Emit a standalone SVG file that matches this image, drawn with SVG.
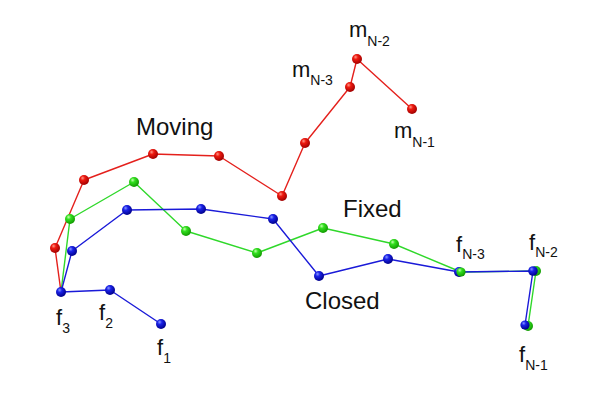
<svg xmlns="http://www.w3.org/2000/svg" width="600" height="413" viewBox="0 0 600 413">
<defs>
<radialGradient id="gR" cx="0.4" cy="0.35" r="0.65" fx="0.35" fy="0.3"><stop offset="0" stop-color="#ff9a8a"/><stop offset="0.35" stop-color="#ee1a10"/><stop offset="1" stop-color="#a00000"/></radialGradient>
<radialGradient id="gG" cx="0.4" cy="0.35" r="0.65" fx="0.35" fy="0.3"><stop offset="0" stop-color="#c8ffb0"/><stop offset="0.35" stop-color="#33e020"/><stop offset="1" stop-color="#119a00"/></radialGradient>
<radialGradient id="gB" cx="0.4" cy="0.35" r="0.65" fx="0.35" fy="0.3"><stop offset="0" stop-color="#8a9aff"/><stop offset="0.35" stop-color="#1a22e8"/><stop offset="1" stop-color="#00008a"/></radialGradient>
</defs>
<style>
.ln{fill:none;stroke-width:1.4;stroke-linejoin:round}
.r{stroke:#e4201c}.g{stroke:#2fd82a}.b{stroke:#1a1ad8}
.br{fill:url(#gR)}.bg{fill:url(#gG)}.bb{fill:url(#gB)}
text{font-family:"Liberation Sans",Arial,sans-serif;fill:#111}
.big{font-size:24px}.m{font-size:22px}.s{font-size:14px}
</style>
<rect width="600" height="413" fill="#fff"/>
<g id="connectors">
<polyline class="ln r" points="61,292 55,248 84,180 153,154 219,156 282,196 305,143 350,87 357,59 412,109"/>
<polyline class="ln g" points="61,292 70,219 134,182 186,231 257,253 323,228 394,244 461,272 536,271 528,326"/>
<polyline class="ln b" points="161,324 110,290 61,292 72,251 127,210 201,209 273,219 319,276 388,259 459,272 533,271 525,325"/>
</g>
<g id="moving-nodes">
<g id="m1"><circle class="br" cx="55" cy="248" r="5"/></g>
<g id="m2"><circle class="br" cx="84" cy="180" r="5"/></g>
<g id="m3"><circle class="br" cx="153" cy="154" r="5"/></g>
<g id="m4"><circle class="br" cx="219" cy="156" r="5"/></g>
<g id="m5"><circle class="br" cx="282" cy="196" r="5"/></g>
<g id="m6"><circle class="br" cx="305" cy="143" r="5"/></g>
<g id="mN3"><circle class="br" cx="350" cy="87" r="5"/></g>
<g id="mN2"><circle class="br" cx="357" cy="59" r="5"/></g>
<g id="mN1"><circle class="br" cx="412" cy="109" r="5"/></g>
</g>
<g id="fixed-nodes">
<g id="g1"><circle class="bg" cx="70" cy="219" r="5"/></g>
<g id="g2"><circle class="bg" cx="134" cy="182" r="5"/></g>
<g id="g3"><circle class="bg" cx="186" cy="231" r="5"/></g>
<g id="g4"><circle class="bg" cx="257" cy="253" r="5"/></g>
<g id="g5"><circle class="bg" cx="323" cy="228" r="5"/></g>
<g id="g6"><circle class="bg" cx="394" cy="244" r="5"/></g>
</g>
<g id="closed-nodes">
<g id="f1"><circle class="bb" cx="161" cy="324" r="5"/></g>
<g id="f2"><circle class="bb" cx="110" cy="290" r="5"/></g>
<g id="f3"><circle class="bb" cx="61" cy="292" r="5"/></g>
<g id="b1"><circle class="bb" cx="72" cy="251" r="5"/></g>
<g id="b2"><circle class="bb" cx="127" cy="210" r="5"/></g>
<g id="b3"><circle class="bb" cx="201" cy="209" r="5"/></g>
<g id="b4"><circle class="bb" cx="273" cy="219" r="5"/></g>
<g id="b5"><circle class="bb" cx="319" cy="276" r="5"/></g>
<g id="b6"><circle class="bb" cx="388" cy="259" r="5"/></g>
</g>
<g id="shared-nodes">
<g id="fN3"><circle class="bb" cx="459" cy="272" r="5"/><circle class="bg" cx="461" cy="272" r="4.6"/></g>
<g id="fN2"><circle class="bg" cx="536" cy="271" r="5"/><circle class="bb" cx="533" cy="271" r="4.8"/></g>
<g id="fN1"><circle class="bg" cx="528" cy="326" r="5"/><circle class="bb" cx="525" cy="325" r="4.6"/></g>
</g>
<g id="labels">
<text class="big" x="136" y="135">Moving</text>
<text class="big" x="343" y="217">Fixed</text>
<text class="big" x="305" y="309">Closed</text>
<text x="349" y="37"><tspan class="m">m</tspan><tspan class="s" dy="9">N-2</tspan></text>
<text x="292" y="77"><tspan class="m">m</tspan><tspan class="s" dy="8">N-3</tspan></text>
<text x="394" y="138"><tspan class="m">m</tspan><tspan class="s" dy="9">N-1</tspan></text>
<text x="56" y="325"><tspan class="m">f</tspan><tspan class="s" dy="8">3</tspan></text>
<text x="99" y="320"><tspan class="m">f</tspan><tspan class="s" dy="8">2</tspan></text>
<text x="157" y="355"><tspan class="m">f</tspan><tspan class="s" dy="8">1</tspan></text>
<text x="456" y="252"><tspan class="m">f</tspan><tspan class="s" dy="7">N-3</tspan></text>
<text x="529" y="250"><tspan class="m">f</tspan><tspan class="s" dy="7">N-2</tspan></text>
<text x="519" y="362"><tspan class="m">f</tspan><tspan class="s" dy="8">N-1</tspan></text>
</g>
</svg>
